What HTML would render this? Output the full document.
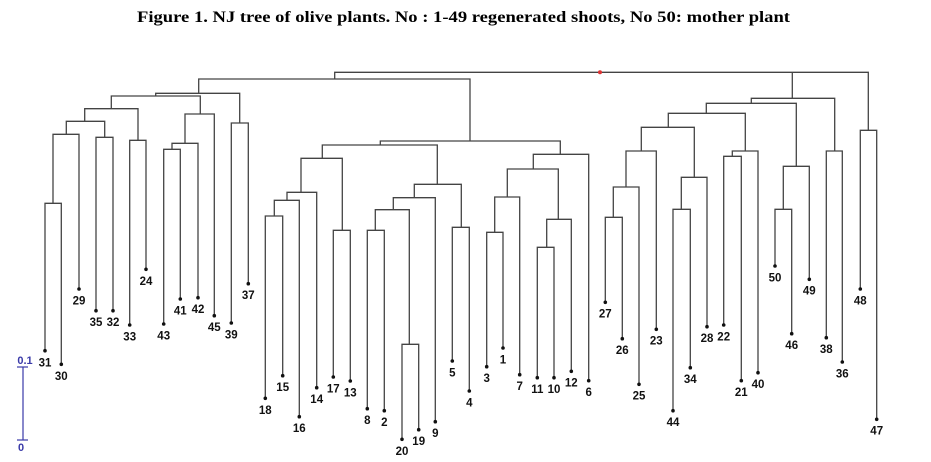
<!DOCTYPE html>
<html><head><meta charset="utf-8"><style>
html,body{margin:0;padding:0;background:#fff;}
svg{display:block;}
.t{font-family:"Liberation Sans",Arial,sans-serif;font-weight:bold;font-size:11.5px;fill:#111;text-anchor:middle;}
</style></head><body>
<svg width="931" height="462" viewBox="0 0 931 462" xmlns="http://www.w3.org/2000/svg">
<text x="137" y="22" textLength="653" lengthAdjust="spacingAndGlyphs" style="font-family:'Liberation Serif',serif;font-weight:bold;font-size:15.5px;fill:#000">Figure 1. NJ tree of olive plants. No : 1-49 regenerated shoots, No 50: mother plant</text>
<g fill="none" stroke="#444" stroke-width="1.3">
<path d="M45,350.7V203.3H61.3V364.3"/>
<path d="M53,203.3V134.3H79V289"/>
<path d="M96,310.7V137.3H113V310.7"/>
<path d="M66.3,134.3V121.3H104.7V137.3"/>
<path d="M129.7,325V140.3H146V269.3"/>
<path d="M84.7,121.3V108.7H138V140.3"/>
<path d="M163.7,324V149.3H180.3V299"/>
<path d="M172,149.3V143.3H198V297.7"/>
<path d="M185,143.3V114H214.3V315.7"/>
<path d="M111.3,108.7V96H200.3V114"/>
<path d="M231.3,323V123H248.3V283.7"/>
<path d="M155.7,96V93.3H239.7V123"/>
<path d="M198.7,93.3V79H470V141"/>
<path d="M334.7,79V72.3H868.3V130.3"/>
<path d="M792.3,72.3V98.3"/>
<path d="M380.3,145V141H560.3V154.3"/>
<path d="M322.3,158.3V145H437.3V184.3"/>
<path d="M301,192.3V158.3H342.3V230.3"/>
<path d="M287,200.3V192.3H316.7V387.7"/>
<path d="M274.3,216V200.3H299.3V416.7"/>
<path d="M265.3,398.3V216H282.7V375.7"/>
<path d="M333.3,377V230.3H350.3V381"/>
<path d="M414.3,197.7V184.3H461.3V227.3"/>
<path d="M393.3,209.7V197.7H435.3V421.7"/>
<path d="M375.3,230.3V209.7H409.3V344.3"/>
<path d="M367.3,408.7V230.3H384.3V410.7"/>
<path d="M402,439.3V344.3H418.7V429.7"/>
<path d="M452.3,361V227.3H469.3V391"/>
<path d="M533.3,169V154.3H588.7V380.7"/>
<path d="M507.3,197V169H558.3V219.3"/>
<path d="M494.7,232.3V197H519.7V374.7"/>
<path d="M486.7,366.7V232.3H503V348"/>
<path d="M546.7,247.3V219.3H571.3V371.3"/>
<path d="M537.3,377.7V247.3H554V377.7"/>
<path d="M860.3,289V130.3H876.7V419.3"/>
<path d="M751.3,103.3V98.3H834.7V151"/>
<path d="M826.3,337.7V151H842.3V362"/>
<path d="M706.3,113.3V103.3H796.3V166.3"/>
<path d="M783.3,209.3V166.3H809.3V279.3"/>
<path d="M775,266V209.3H791.7V333.7"/>
<path d="M668.3,127.3V113.3H745.3V151"/>
<path d="M732.3,156.3V151H758V372.7"/>
<path d="M723.7,325V156.3H741.3V380.7"/>
<path d="M641.3,151V127.3H694.3V177.3"/>
<path d="M681.3,209.3V177.3H707V326.7"/>
<path d="M673,410.7V209.3H690.3V367.7"/>
<path d="M626,187V151H656.3V329.3"/>
<path d="M613.3,217.3V187H639V384.3"/>
<path d="M605.3,302.3V217.3H622.3V338.7"/>
</g>
<circle cx="600" cy="72.3" r="2" fill="#d33"/>
<g fill="#111">
<circle cx="45" cy="350.7" r="1.8"/><circle cx="61.3" cy="364.3" r="1.8"/><circle cx="79" cy="289" r="1.8"/><circle cx="96" cy="310.7" r="1.8"/><circle cx="113" cy="310.7" r="1.8"/><circle cx="129.7" cy="325" r="1.8"/><circle cx="146" cy="269.3" r="1.8"/><circle cx="163.7" cy="324" r="1.8"/><circle cx="180.3" cy="299" r="1.8"/><circle cx="198" cy="297.7" r="1.8"/><circle cx="214.3" cy="315.7" r="1.8"/><circle cx="231.3" cy="323" r="1.8"/><circle cx="248.3" cy="283.7" r="1.8"/><circle cx="265.3" cy="398.3" r="1.8"/><circle cx="282.7" cy="375.7" r="1.8"/><circle cx="299.3" cy="416.7" r="1.8"/><circle cx="316.7" cy="387.7" r="1.8"/><circle cx="333.3" cy="377" r="1.8"/><circle cx="350.3" cy="381" r="1.8"/><circle cx="367.3" cy="408.7" r="1.8"/><circle cx="384.3" cy="410.7" r="1.8"/><circle cx="402" cy="439.3" r="1.8"/><circle cx="418.7" cy="429.7" r="1.8"/><circle cx="435.3" cy="421.7" r="1.8"/><circle cx="452.3" cy="361" r="1.8"/><circle cx="469.3" cy="391" r="1.8"/><circle cx="486.7" cy="366.7" r="1.8"/><circle cx="503" cy="348" r="1.8"/><circle cx="519.7" cy="374.7" r="1.8"/><circle cx="537.3" cy="377.7" r="1.8"/><circle cx="554" cy="377.7" r="1.8"/><circle cx="571.3" cy="371.3" r="1.8"/><circle cx="588.7" cy="380.7" r="1.8"/><circle cx="605.3" cy="302.3" r="1.8"/><circle cx="622.3" cy="338.7" r="1.8"/><circle cx="639" cy="384.3" r="1.8"/><circle cx="656.3" cy="329.3" r="1.8"/><circle cx="673" cy="410.7" r="1.8"/><circle cx="690.3" cy="367.7" r="1.8"/><circle cx="707" cy="326.7" r="1.8"/><circle cx="723.7" cy="325" r="1.8"/><circle cx="741.3" cy="380.7" r="1.8"/><circle cx="758" cy="372.7" r="1.8"/><circle cx="775" cy="266" r="1.8"/><circle cx="791.7" cy="333.7" r="1.8"/><circle cx="809.3" cy="279.3" r="1.8"/><circle cx="826.3" cy="337.7" r="1.8"/><circle cx="842.3" cy="362" r="1.8"/><circle cx="860.3" cy="289" r="1.8"/><circle cx="876.7" cy="419.3" r="1.8"/>
</g>
<g class="t">
<text class="t" x="45" y="366.5">31</text><text class="t" x="61.3" y="380">30</text><text class="t" x="79" y="304.5">29</text><text class="t" x="96" y="326">35</text><text class="t" x="113" y="326">32</text><text class="t" x="129.7" y="340.5">33</text><text class="t" x="146" y="285">24</text><text class="t" x="163.7" y="339.5">43</text><text class="t" x="180.3" y="314.5">41</text><text class="t" x="198" y="313">42</text><text class="t" x="214.3" y="331">45</text><text class="t" x="231.3" y="338.5">39</text><text class="t" x="248.3" y="299">37</text><text class="t" x="265.3" y="414">18</text><text class="t" x="282.7" y="391">15</text><text class="t" x="299.3" y="432">16</text><text class="t" x="316.7" y="403">14</text><text class="t" x="333.3" y="392.5">17</text><text class="t" x="350.3" y="396.5">13</text><text class="t" x="367.3" y="424">8</text><text class="t" x="384.3" y="426">2</text><text class="t" x="402" y="455">20</text><text class="t" x="418.7" y="445">19</text><text class="t" x="435.3" y="437">9</text><text class="t" x="452.3" y="376.5">5</text><text class="t" x="469.3" y="406.5">4</text><text class="t" x="486.7" y="382">3</text><text class="t" x="503" y="363.5">1</text><text class="t" x="519.7" y="390">7</text><text class="t" x="537.3" y="393">11</text><text class="t" x="554" y="393">10</text><text class="t" x="571.3" y="386.5">12</text><text class="t" x="588.7" y="396">6</text><text class="t" x="605.3" y="317.5">27</text><text class="t" x="622.3" y="354">26</text><text class="t" x="639" y="399.5">25</text><text class="t" x="656.3" y="344.5">23</text><text class="t" x="673" y="426">44</text><text class="t" x="690.3" y="383">34</text><text class="t" x="707" y="342">28</text><text class="t" x="723.7" y="340.5">22</text><text class="t" x="741.3" y="396">21</text><text class="t" x="758" y="388">40</text><text class="t" x="775" y="281.5">50</text><text class="t" x="791.7" y="349">46</text><text class="t" x="809.3" y="294.5">49</text><text class="t" x="826.3" y="353">38</text><text class="t" x="842.3" y="377.5">36</text><text class="t" x="860.3" y="304.5">48</text><text class="t" x="876.7" y="434.5">47</text>
</g>
<g stroke="#3a3aa8" stroke-width="1.2" fill="none">
<path d="M23,367V440"/><path d="M17,367H28"/><path d="M17,440H28"/>
</g>
<text x="25" y="364" style="font-family:'Liberation Sans',sans-serif;font-weight:bold;font-size:11px;fill:#3a3aa8;text-anchor:middle">0.1</text>
<text x="21" y="451" style="font-family:'Liberation Sans',sans-serif;font-weight:bold;font-size:11px;fill:#3a3aa8;text-anchor:middle">0</text>
</svg>
</body></html>
